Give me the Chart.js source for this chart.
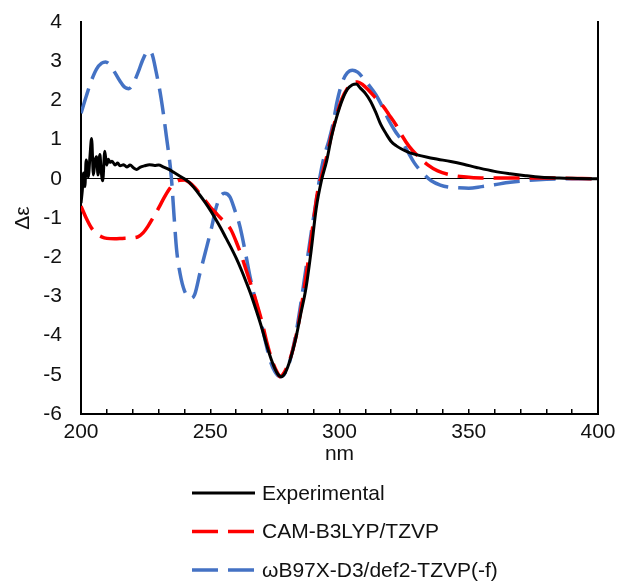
<!DOCTYPE html>
<html>
<head>
<meta charset="utf-8">
<script src="https://cdn.jsdelivr.net/npm/chart.js@4/dist/chart.umd.min.js"></script>
<style>
    html, body { margin: 0; padding: 0; background: #fff; }
    #wrap { width: 617px; height: 582px; }
</style>
</head>
<body>
<div id="wrap"><canvas id="cd-chart" width="617" height="582"></canvas></div>
<script>
// Experimental CD spectrum
const expNm = [200, 200.5, 201, 201.5, 202, 202.8, 203.5, 204.1, 204.8, 205.4, 206, 206.6, 207.3, 207.8, 208.4, 209.2, 209.9, 210.6, 211.2, 212, 213.2, 214.2, 215.1, 216.5, 217.7, 219, 220.3, 221.5, 223, 224.5, 226.5, 228.5, 230, 232, 234, 236, 238, 240, 242, 244, 246, 248, 250, 252, 254, 256, 258, 260, 262, 264, 266, 268, 270, 272, 274, 276, 277.5, 279, 281, 283, 285, 287, 289, 291, 293, 295, 297, 299, 301, 303, 305, 306.5, 308, 310, 312, 314, 316, 318, 320, 322, 324, 327, 330, 334, 338, 343, 348, 353, 360, 366, 372, 378, 385, 392, 400];
const expDelta = [-0.62, -0.3, 0.15, -0.2, 0.48, 0.05, 0.6, 1.03, 0.1, 0.45, 0.56, 0.1, 0.62, 0.2, -0.05, 0.7, 0.35, 0.5, 0.42, 0.45, 0.35, 0.4, 0.33, 0.36, 0.3, 0.35, 0.28, 0.24, 0.3, 0.33, 0.36, 0.34, 0.35, 0.3, 0.24, 0.16, 0.08, 0.0, -0.1, -0.25, -0.42, -0.6, -0.8, -1.02, -1.25, -1.5, -1.75, -2.02, -2.32, -2.65, -3.0, -3.4, -3.82, -4.28, -4.68, -4.97, -5.05, -4.95, -4.6, -4.1, -3.45, -2.8, -1.85, -0.75, -0.05, 0.45, 1.1, 1.6, 2.0, 2.28, 2.4, 2.42, 2.32, 2.18, 1.98, 1.7, 1.38, 1.15, 0.95, 0.84, 0.76, 0.67, 0.61, 0.55, 0.5, 0.44, 0.37, 0.29, 0.19, 0.13, 0.08, 0.04, 0.02, 0.01, 0];

// CAM-B3LYP/TZVP
const camNm = [200, 202, 204, 206, 208, 210, 213, 216, 219, 222, 224, 226, 228, 230, 232, 234, 236, 238, 240, 242, 244, 246, 248, 250, 252, 254, 256, 258, 260, 262, 264, 266, 268, 270, 272, 274, 276, 277, 278, 280, 282, 284, 286, 288, 290, 292, 293, 295, 297, 299, 301, 303, 305, 307, 309, 311, 314, 317, 319, 322, 324, 327, 330, 334, 338, 343, 348, 355, 365, 380, 390, 400];
const camDelta = [-0.7, -1.0, -1.25, -1.4, -1.48, -1.52, -1.53, -1.52, -1.51, -1.48, -1.38, -1.2, -0.98, -0.75, -0.5, -0.28, -0.12, -0.04, -0.03, -0.1, -0.22, -0.38, -0.55, -0.72, -0.86, -1.0, -1.13, -1.3, -1.6, -1.95, -2.35, -2.75, -3.18, -3.65, -4.2, -4.65, -4.95, -5.05, -5.0, -4.75, -4.35, -3.75, -2.95, -2.05, -1.05, -0.15, 0.05, 0.55, 1.15, 1.65, 2.05, 2.3, 2.44, 2.47, 2.4, 2.28, 2.06, 1.84, 1.65, 1.36, 1.12, 0.82, 0.6, 0.36, 0.2, 0.1, 0.05, 0.02, 0.02, 0.02, 0.01, 0];

// wB97X-D3/def2-TZVP(-f)
const wbNm = [200, 202, 204, 206, 208, 209.5, 211, 213, 215, 217, 218.5, 220, 222, 224, 226, 227.5, 229, 231, 233, 235, 236, 237, 238.3, 240, 242.5, 244, 246, 248, 250.6, 252, 253.8, 255.5, 257.6, 259.5, 261.5, 263.5, 265.4, 267.3, 269.2, 271, 273.1, 275, 277, 279, 281, 283, 285, 287, 289, 291, 292.3, 294, 296, 297.5, 299, 301, 303, 305, 307, 309, 311, 314, 316.5, 319, 321.5, 324, 326.5, 329, 332, 335.5, 339, 342, 346, 350, 355, 360, 366, 373, 380, 390, 400];
const wbDelta = [1.67, 2.1, 2.5, 2.8, 2.95, 2.98, 2.92, 2.72, 2.5, 2.33, 2.3, 2.4, 2.7, 3.05, 3.27, 3.18, 2.75, 2.05, 1.1, 0.0, -0.95, -1.82, -2.41, -2.85, -3.05, -2.95, -2.41, -1.9, -1.22, -0.8, -0.46, -0.37, -0.46, -0.8, -1.22, -1.85, -2.5, -3.05, -3.52, -4.05, -4.62, -4.92, -5.05, -4.95, -4.6, -4.0, -3.2, -2.3, -1.4, -0.55, 0.0, 0.55, 1.0, 1.4, 1.95, 2.45, 2.7, 2.77, 2.72, 2.58, 2.42, 2.15, 1.85, 1.5, 1.22, 0.98, 0.68, 0.4, 0.16, -0.05, -0.16, -0.21, -0.23, -0.24, -0.2, -0.15, -0.09, -0.04, -0.01, 0, 0];

const seriesNames = ['Experimental', 'CAM-B3LYP/TZVP', 'ωB97X-D3/def2-TZVP(-f)'];
const xLabel = 'nm';
const yLabel = 'Δε';

const FONT = "'Liberation Sans', Arial, sans-serif";

function toPoints(xs, ys) {
    return xs.map((x, i) => ({ x: x, y: ys[i] }));
}

// legend stacked one entry per row under the axis title
const stackedLegend = {
    id: 'stackedLegend',
    afterDraw(chart) {
        const ctx = chart.ctx;
        ctx.save();
        chart.data.datasets.forEach((ds, i) => {
            const y = 493 + i * 38.5;
            ctx.beginPath();
            ctx.strokeStyle = ds.borderColor;
            ctx.lineWidth = ds.borderWidth;
            ctx.setLineDash(ds.borderDash || []);
            ctx.moveTo(192, y);
            ctx.lineTo(255, y);
            ctx.stroke();
            ctx.setLineDash([]);
            ctx.fillStyle = '#111';
            ctx.font = '21px ' + FONT;
            ctx.textBaseline = 'middle';
            ctx.textAlign = 'left';
            ctx.fillText(ds.label, 262, y + 1);
        });
        ctx.restore();
    }
};

new Chart(document.getElementById('cd-chart').getContext('2d'), {
    type: 'line',
    data: {
        datasets: [
            {
                label: seriesNames[0],
                data: toPoints(expNm, expDelta),
                borderColor: '#000000',
                borderWidth: 3,
                pointRadius: 0,
                cubicInterpolationMode: 'monotone'
            },
            {
                label: seriesNames[1],
                data: toPoints(camNm, camDelta),
                borderColor: '#FF0000',
                borderWidth: 3.5,
                borderDash: [26, 10],
                pointRadius: 0,
                cubicInterpolationMode: 'monotone'
            },
            {
                label: seriesNames[2],
                data: toPoints(wbNm, wbDelta),
                borderColor: '#4472C4',
                borderWidth: 3.5,
                borderDash: [26, 10],
                pointRadius: 0,
                cubicInterpolationMode: 'monotone'
            }
        ]
    },
    options: {
        responsive: false,
        animation: false,
        layout: { padding: { left: 0, right: 19, top: 22, bottom: 0 } },
        plugins: {
            legend: { display: false },
            tooltip: { enabled: false }
        },
        scales: {
            x: {
                type: 'linear',
                min: 200,
                max: 400,
                afterFit: function(scale) {
                    scale.height = 168;
                    scale.paddingLeft = 0;
                    scale.paddingRight = 0;
                },
                ticks: {
                    stepSize: 10,
                    autoSkip: false,
                    maxRotation: 0,
                    padding: 11,
                    color: '#111',
                    font: { family: FONT, size: 21 },
                    callback: function(v) { return v % 50 === 0 ? v : ''; }
                },
                grid: {
                    drawOnChartArea: false,
                    drawTicks: true,
                    tickLength: -5,
                    color: '#000',
                    lineWidth: 1.5
                },
                border: { display: true, color: '#000', width: 2 },
                title: {
                    display: true,
                    text: xLabel,
                    color: '#111',
                    font: { family: FONT, size: 21 },
                    padding: { top: 0, bottom: 115 }
                }
            },
            y: {
                min: -6,
                max: 4,
                afterFit: function(scale) {
                    scale.width = 81;
                    scale.paddingTop = 0;
                    scale.paddingBottom = 0;
                },
                ticks: {
                    stepSize: 1,
                    padding: 19,
                    color: '#111',
                    font: { family: FONT, size: 21 }
                },
                grid: {
                    drawTicks: false,
                    lineWidth: 1,
                    color: function(c) { return c.tick && c.tick.value === 0 ? '#000' : 'rgba(0,0,0,0)'; }
                },
                border: { display: true, color: '#000', width: 2 },
                title: {
                    display: true,
                    text: yLabel,
                    color: '#111',
                    font: { family: FONT, size: 21 },
                    padding: { top: 11, bottom: 0 }
                }
            },
            yRight: {
                position: 'right',
                min: -6,
                max: 4,
                afterFit: function(scale) {
                    scale.width = 0;
                    scale.paddingTop = 0;
                    scale.paddingBottom = 0;
                },
                ticks: { display: false },
                grid: { display: false, drawTicks: false },
                border: { display: true, color: '#000', width: 2 }
            }
        }
    },
    plugins: [stackedLegend]
});
</script>
</body>
</html>
